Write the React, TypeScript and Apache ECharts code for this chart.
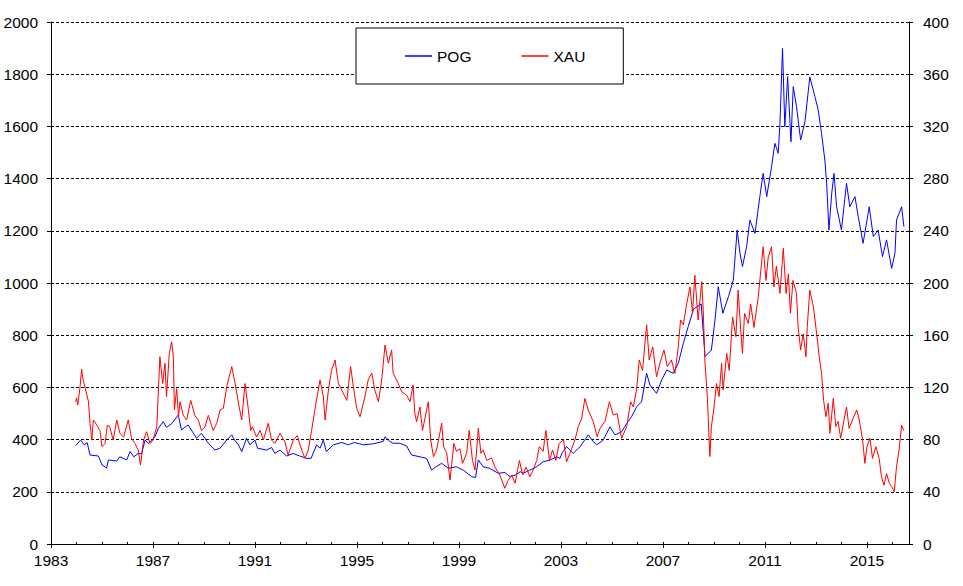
import React, { useEffect, useRef } from "react";
import * as echarts from "echarts";

// POG (left axis, USD/oz)
const pogDates = [
  1983.97, 1984.16, 1984.3, 1984.42, 1984.53, 1984.86, 1985.0, 1985.18, 1985.25, 1985.58, 1985.7, 1985.97,
  1986.1, 1986.25, 1986.42, 1986.55, 1986.69, 1986.82, 1986.95, 1987.08, 1987.21, 1987.4, 1987.53, 1987.72,
  1987.99, 1988.12, 1988.25, 1988.38, 1988.71, 1988.9, 1989.17, 1989.43, 1989.63, 1989.89, 1990.09, 1990.2,
  1990.35, 1990.48, 1990.67, 1990.8, 1991.0, 1991.1, 1991.46, 1991.65, 1991.78, 1991.98, 1992.24, 1992.5,
  1992.76, 1993.03, 1993.2, 1993.42, 1993.55, 1993.68, 1993.8, 1994.07, 1994.4, 1994.66, 1994.9, 1995.25,
  1995.64, 1996.03, 1996.1, 1996.3, 1996.42, 1996.69, 1996.95, 1997.14, 1997.47, 1997.73, 1997.93, 1998.1,
  1998.32, 1998.58, 1998.9, 1999.17, 1999.5, 1999.65, 1999.76, 1999.95, 2000.2, 2000.54, 2000.8, 2001.0,
  2001.2, 2001.4, 2001.52, 2001.78, 2002.05, 2002.3, 2002.57, 2002.83, 2002.96, 2003.05, 2003.22, 2003.48,
  2003.75, 2004.07, 2004.27, 2004.4, 2004.66, 2004.92, 2005.12, 2005.38, 2005.58, 2005.77, 2005.97, 2006.16,
  2006.36, 2006.49, 2006.75, 2006.95, 2007.15, 2007.4, 2007.6, 2007.8, 2007.99, 2008.2, 2008.5, 2008.65,
  2008.9, 2009.04, 2009.17, 2009.35, 2009.57, 2009.76, 2009.91, 2010.02, 2010.12, 2010.28, 2010.41, 2010.61,
  2010.8, 2010.93, 2011.07, 2011.26, 2011.39, 2011.52, 2011.59, 2011.69, 2011.78, 2011.89, 2012.02, 2012.11,
  2012.24, 2012.4, 2012.57, 2012.76, 2012.96, 2013.09, 2013.22, 2013.35, 2013.42, 2013.51, 2013.62, 2013.71,
  2013.81, 2014.0, 2014.2, 2014.33, 2014.53, 2014.66, 2014.85, 2015.09, 2015.25, 2015.44, 2015.61, 2015.77,
  2015.97, 2016.1, 2016.16, 2016.36, 2016.45,
];
const pogValues = [
  377, 398, 380, 388, 341, 337, 303, 291, 322, 318, 334, 322,
  354, 334, 347, 345, 398, 386, 398, 411, 443, 469, 447, 460,
  494, 437, 447, 456, 405, 424, 386, 360, 367, 398, 418, 398,
  380, 354, 405, 380, 398, 367, 360, 370, 347, 360, 337, 347,
  337, 328, 328, 380, 367, 398, 354, 380, 389, 380, 389, 380,
  384, 393, 411, 392, 386, 386, 375, 341, 334, 328, 283, 296,
  309, 290, 296, 283, 258, 255, 322, 296, 290, 271, 274, 258,
  264, 277, 271, 283, 296, 315, 322, 334, 328, 350, 373, 347,
  373, 418, 392, 380, 398, 449, 418, 430, 462, 488, 526, 545,
  654, 609, 577, 628, 667, 654, 692, 769, 833, 900, 920, 718,
  743, 858, 986, 884, 948, 1011, 1203, 1114, 1063, 1139, 1241, 1190,
  1331, 1420, 1331, 1446, 1535, 1497, 1612, 1899, 1599, 1790, 1541, 1752,
  1675, 1548, 1618, 1790, 1714, 1663, 1573, 1471, 1382, 1203, 1344, 1420,
  1292, 1203, 1382, 1292, 1331, 1254, 1152, 1292, 1178, 1203, 1101, 1165,
  1056, 1114, 1241, 1292, 1216,
];

// XAU (right axis)
const xauDates = [
  1983.97, 1984.0, 1984.05, 1984.14, 1984.2, 1984.26, 1984.36, 1984.47, 1984.53, 1984.6, 1984.66, 1984.8,
  1984.92, 1985.0, 1985.12, 1985.21, 1985.3, 1985.44, 1985.58, 1985.7, 1985.85, 1986.03, 1986.16, 1986.29,
  1986.42, 1986.51, 1986.63, 1986.75, 1986.88, 1987.0, 1987.15, 1987.27, 1987.38, 1987.47, 1987.53, 1987.64,
  1987.73, 1987.8, 1987.84, 1987.93, 1988.0, 1988.06, 1988.19, 1988.32, 1988.48, 1988.64, 1988.78, 1988.9,
  1989.04, 1989.17, 1989.36, 1989.5, 1989.63, 1989.76, 1989.89, 1990.09, 1990.22, 1990.35, 1990.48, 1990.61,
  1990.74, 1990.83, 1990.9, 1991.06, 1991.2, 1991.33, 1991.52, 1991.65, 1991.78, 1991.98, 1992.18, 1992.3,
  1992.5, 1992.66, 1992.83, 1992.96, 1993.09, 1993.22, 1993.35, 1993.48, 1993.55, 1993.68, 1993.75, 1993.88,
  1994.0, 1994.14, 1994.27, 1994.4, 1994.6, 1994.75, 1994.86, 1994.99, 1995.12, 1995.31, 1995.44, 1995.58,
  1995.7, 1995.84, 1995.97, 1996.1, 1996.23, 1996.36, 1996.42, 1996.62, 1996.75, 1996.95, 1997.08, 1997.2,
  1997.27, 1997.34, 1997.47, 1997.57, 1997.73, 1997.8, 1997.89, 1998.0, 1998.12, 1998.25, 1998.32, 1998.4,
  1998.52, 1998.65, 1998.8, 1998.9, 1999.04, 1999.14, 1999.3, 1999.4, 1999.53, 1999.63, 1999.76, 1999.86,
  1999.95, 2000.09, 2000.28, 2000.41, 2000.6, 2000.8, 2000.92, 2001.07, 2001.2, 2001.37, 2001.5, 2001.63,
  2001.78, 2001.91, 2002.05, 2002.15, 2002.3, 2002.41, 2002.55, 2002.67, 2002.8, 2002.93, 2003.1, 2003.22,
  2003.35, 2003.55, 2003.68, 2003.81, 2003.94, 2004.07, 2004.27, 2004.42, 2004.53, 2004.73, 2004.9, 2005.05,
  2005.2, 2005.38, 2005.58, 2005.73, 2005.84, 2005.97, 2006.07, 2006.2, 2006.36, 2006.46, 2006.6, 2006.75,
  2006.88, 2007.04, 2007.17, 2007.33, 2007.47, 2007.6, 2007.69, 2007.8, 2007.93, 2008.06, 2008.16, 2008.25,
  2008.38, 2008.52, 2008.58, 2008.65, 2008.74, 2008.84, 2008.9, 2008.99, 2009.1, 2009.2, 2009.3, 2009.36,
  2009.5, 2009.6, 2009.73, 2009.86, 2009.95, 2010.05, 2010.12, 2010.2, 2010.35, 2010.44, 2010.57, 2010.74,
  2010.84, 2010.93, 2011.04, 2011.13, 2011.26, 2011.35, 2011.45, 2011.59, 2011.72, 2011.83, 2011.92, 2012.0,
  2012.1, 2012.24, 2012.3, 2012.4, 2012.5, 2012.61, 2012.66, 2012.76, 2012.9, 2013.03, 2013.13, 2013.22,
  2013.3, 2013.39, 2013.48, 2013.55, 2013.68, 2013.78, 2013.87, 2013.97, 2014.1, 2014.2, 2014.3, 2014.43,
  2014.6, 2014.7, 2014.83, 2014.92, 2015.0, 2015.12, 2015.22, 2015.35, 2015.48, 2015.57, 2015.67, 2015.77,
  2015.88, 2015.97, 2016.07, 2016.16, 2016.26, 2016.36, 2016.45,
];
const xauValues = [
  109, 112, 106.5, 120.5, 134, 125.7, 118, 109, 92.5, 79.7, 95, 91,
  87, 74.6, 77, 91, 90, 79.7, 95, 84.8, 82, 95, 81, 77,
  72, 60.5, 79.7, 86, 77, 79.7, 90, 143.5, 123, 138.5, 113, 146,
  155, 143.5, 102.7, 119, 97.5, 109, 98.6, 95, 110, 98.6, 95, 87,
  89.7, 98.6, 87, 92.5, 102.7, 104, 120.5, 136, 123, 108, 95, 123,
  103, 87, 90, 82, 87, 79.7, 92.5, 79.7, 77, 84.8, 78, 68,
  79.7, 83, 72, 65.6, 72, 87, 103, 118, 125.7, 113, 95, 118,
  133, 141, 123, 118, 110, 136, 120.5, 104, 97.5, 113, 125.7, 131,
  118, 109, 125.7, 152.5, 138.5, 148.7, 130.8, 123, 116.7, 114, 109, 121.8,
  100, 93.7, 105, 87, 102.7, 109, 79.7, 67, 72, 84.8, 92.5, 74.6,
  69.5, 49, 77, 71, 73, 61.8, 69.5, 87, 64, 56.7, 88.6, 69.5,
  72, 64, 66, 59, 52.9, 42.7, 48.5, 52.9, 46.5, 64, 53, 59,
  51.6, 56.7, 64, 74.6, 71, 87, 64, 72, 64, 77, 79.7, 63,
  69.5, 79.7, 90, 96, 111.6, 102.7, 93.7, 82.2, 88.6, 94, 109, 98.9,
  100, 81, 90, 109, 105, 119, 141, 133, 168, 141, 151, 128,
  138.5, 148.7, 136, 141, 130.8, 151, 171.6, 168, 184, 197, 176.8, 206,
  171.6, 201, 179, 138.5, 113, 67, 90, 102.7, 123, 113, 138.5, 118,
  146, 133, 174, 158.9, 194.6, 164, 146, 176.8, 169, 184, 166, 189.5,
  210, 227.8, 202, 220, 227.8, 197, 213, 192, 226.6, 192, 207, 176.8,
  202, 192, 166.5, 148.7, 161, 143.5, 166.5, 194.6, 181.8, 161, 143.5, 130.8,
  110, 97.5, 107.8, 84.8, 111.6, 90, 94, 81, 95, 105, 88.6, 95,
  102.7, 95, 79.7, 61.8, 74.6, 81, 65.6, 74.6, 65.6, 51.6, 45, 54,
  46.5, 44, 40, 59, 72, 91, 87,
];

const xLabelYears = [1983, 1987, 1991, 1995, 1999, 2003, 2007, 2011, 2015];
const xMinorYears = [
  1984, 1985, 1986, 1987, 1988, 1989, 1990, 1991, 1992, 1993, 1994, 1995, 1996, 1997, 1998, 1999, 2000,
  2001, 2002, 2003, 2004, 2005, 2006, 2007, 2008, 2009, 2010, 2011, 2012, 2013, 2014, 2015, 2016,
];

const FONT = "'Liberation Sans', Arial, sans-serif";
const plain = (v: number) => String(Math.round(v));

export default function App() {
  const ref = useRef<HTMLDivElement>(null);
  useEffect(() => {
    if (!ref.current) return;
    const chart = echarts.init(ref.current, null, { renderer: "svg" });
    const axisLine = { show: true, lineStyle: { color: "#000", width: 1 } };
    chart.setOption({
      animation: false,
      backgroundColor: "#fff",
      textStyle: { fontFamily: FONT },
      grid: { left: 51, right: 54, top: 22, bottom: 42, containLabel: false, outerBoundsMode: "none" },
      legend: {
        top: 28,
        left: 356,
        orient: "horizontal",
        backgroundColor: "#fff",
        borderColor: "#000",
        borderWidth: 1,
        borderRadius: 0,
        padding: [20, 38, 20, 49],
        itemGap: 50,
        itemWidth: 27,
        itemHeight: 1.5,
        icon: "rect",
        textStyle: { fontSize: 15.5, color: "#000", fontFamily: FONT },
        data: ["POG", "XAU"],
      },
      xAxis: [
        {
          type: "value",
          min: 1983,
          max: 2016.65,
          position: "bottom",
          axisLine,
          axisTick: { show: true, inside: true, length: 2, customValues: xMinorYears, lineStyle: { color: "#000" } },
          axisLabel: { customValues: xLabelYears, formatter: plain, fontSize: 15.5, color: "#000", margin: 8, fontFamily: FONT },
          splitLine: { show: false },
        },
        {
          type: "value",
          min: 1983,
          max: 2016.65,
          position: "bottom",
          axisLine: { show: false },
          axisTick: { show: true, inside: false, length: 4, customValues: xLabelYears, lineStyle: { color: "#000" } },
          axisLabel: { show: false },
          splitLine: { show: false },
        },
      ],
      yAxis: [
        {
          type: "value",
          min: 0,
          max: 2000,
          interval: 200,
          position: "left",
          axisLine,
          axisTick: { show: true, length: 4, lineStyle: { color: "#000" } },
          axisLabel: { formatter: plain, fontSize: 15.5, color: "#000", margin: 13, fontFamily: FONT },
          splitLine: { show: true, lineStyle: { color: "#000", width: 1, type: [3, 2] } },
        },
        {
          type: "value",
          min: 0,
          max: 400,
          interval: 40,
          position: "right",
          axisLine,
          axisTick: { show: true, length: 4, lineStyle: { color: "#000" } },
          axisLabel: { formatter: plain, fontSize: 15.5, color: "#000", margin: 14, fontFamily: FONT },
          splitLine: { show: false },
        },
      ],
      series: [
        {
          name: "POG",
          type: "line",
          xAxisIndex: 0,
          yAxisIndex: 0,
          color: "#0000ff",
          showSymbol: false,
          symbol: "none",
          lineStyle: { color: "#0000ff", width: 1 },
          data: pogDates.map((d, i) => [d, pogValues[i]]),
        },
        {
          name: "XAU",
          type: "line",
          xAxisIndex: 0,
          yAxisIndex: 1,
          color: "#ff0000",
          showSymbol: false,
          symbol: "none",
          lineStyle: { color: "#ff0000", width: 1 },
          data: xauDates.map((d, i) => [d, xauValues[i]]),
        },
      ],
    });
    return () => chart.dispose();
  }, []);
  return (
    <div
      ref={ref}
      style={{ position: "absolute", left: 0, top: 0, width: 963, height: 586, background: "#fff" }}
    />
  );
}
